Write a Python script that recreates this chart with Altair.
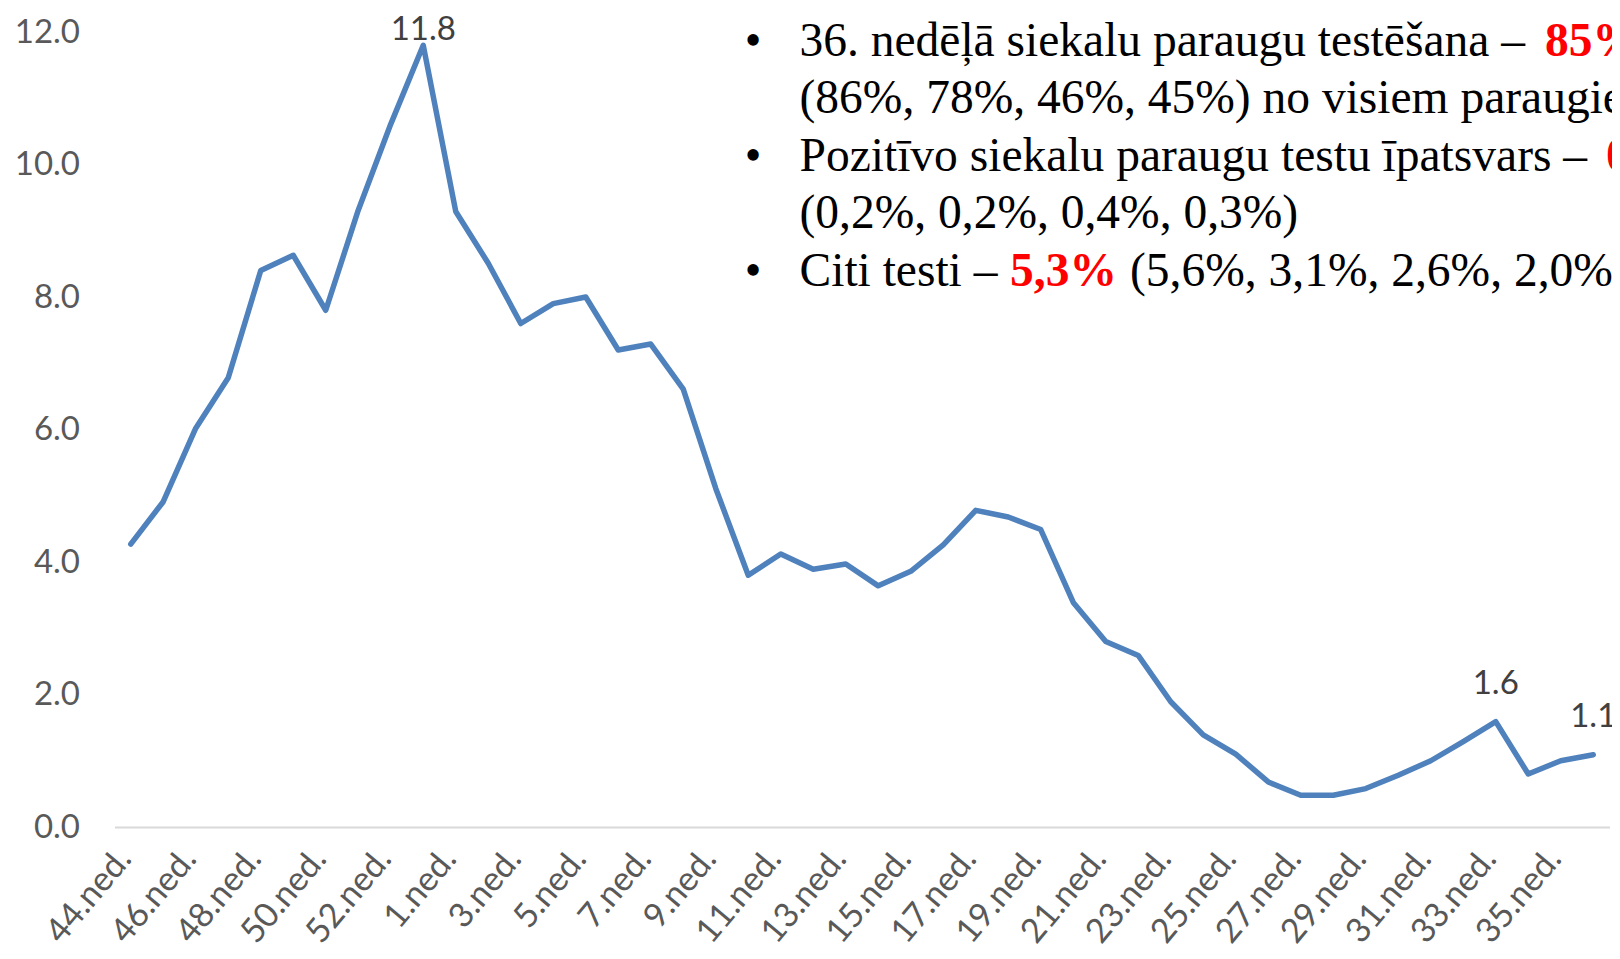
import altair as alt
import pandas as pd

weeks = ["44.ned.", "45.ned.", "46.ned.", "47.ned.", "48.ned.", "49.ned.", "50.ned.", "51.ned.",
         "52.ned.", "53.ned."] + [f"{i}.ned." for i in range(1, 37)]
values = [4.27, 4.91, 6.02, 6.78, 8.40, 8.63, 7.80, 9.31, 10.61, 11.8,
          9.29, 8.51, 7.60, 7.90, 8.00, 7.20, 7.29, 6.61, 5.11, 3.80,
          4.12, 3.89, 3.97, 3.64, 3.86, 4.26, 4.78, 4.68, 4.49, 3.39,
          2.80, 2.59, 1.89, 1.39, 1.10, 0.68, 0.48, 0.48, 0.58, 0.78,
          1.00, 1.29, 1.59, 0.80, 1.00, 1.09]
peak_week = ["53.ned."]
labelled_weeks = ["33.ned.", "36.ned."]
tick_labels = weeks[::2]
y_ticks = [0, 2, 4, 6, 8, 10, 12]

df = pd.DataFrame({"week": weeks, "value": values})

W, H = 1495, 795
AX_FONT = "Lato"
SERIF = "Liberation Serif"
FS_AX = 33

x_enc = alt.X("week:N", sort=weeks,
              scale=alt.Scale(padding=0.5),
              axis=alt.Axis(values=tick_labels, labelAngle=-50, labelAlign="right",
                            labelBaseline="middle", labelPadding=26, labelOffset=-6,
                            labelFont=AX_FONT,
                            labelFontSize=34, labelColor="#595959", ticks=False,
                            domainColor="#D9D9D9", domainWidth=2, title=None, grid=False,
                            labelOverlap=False))
y_enc = alt.Y("value:Q", scale=alt.Scale(domain=[0, 12], nice=False),
              axis=alt.Axis(values=y_ticks, format=".1f", labelFont=AX_FONT, labelFontSize=FS_AX,
                            labelColor="#595959", labelPadding=35, ticks=False, domain=False,
                            grid=False, title=None))

base = alt.Chart(df)
line = base.mark_line(color="#4F81BD", strokeWidth=5.5, strokeJoin="round", strokeCap="round").encode(
    x=x_enc, y=y_enc)

peak_lbl = base.transform_filter(alt.FieldOneOfPredicate(field="week", oneOf=peak_week)).mark_text(
    font=AX_FONT, fontSize=FS_AX, color="#404040", baseline="bottom", dy=2).encode(
    x=alt.X("week:N", sort=weeks), y="value:Q", text=alt.Text("value:Q", format=".1f"))
other_lbl = base.transform_filter(alt.FieldOneOfPredicate(field="week", oneOf=labelled_weeks)).mark_text(
    font=AX_FONT, fontSize=FS_AX, color="#404040", baseline="bottom", dy=-21).encode(
    x=alt.X("week:N", sort=weeks), y="value:Q", text=alt.Text("value:Q", format=".1f"))

OX, OY = 114.5, 32


def note(text, x, y, color="black", bold=False, align="left"):
    return alt.Chart(pd.DataFrame({"t": [text]})).mark_text(
        font=SERIF, fontSize=47.5, color=color, fontWeight="bold" if bold else "normal",
        align=align, baseline="alphabetic").encode(
        text="t:N", x=alt.value(x - OX), y=alt.value(y - OY))


notes = [
    note("•", 753, 56, align="center"),
    note("•", 753, 171, align="center"),
    note("•", 753, 286, align="center"),
    note("36. nedēļā siekalu paraugu testēšana –", 799.5, 56),
    note("85%", 1545, 56, color="#FF0000", bold=True),
    note("(86%, 78%, 46%, 45%) no visiem paraugiem", 799.5, 113),
    note("Pozitīvo siekalu paraugu testu īpatsvars –", 799.5, 171),
    note("0,3%", 1606, 171, color="#FF0000", bold=True),
    note("(0,2%, 0,2%, 0,4%, 0,3%)", 799.5, 228),
    note("Citi testi –", 799.5, 286),
    note("5,3%", 1010, 286, color="#FF0000", bold=True),
    note("(5,6%, 3,1%, 2,6%, 2,0%)", 1130, 286),
]

chart = alt.layer(line, peak_lbl, other_lbl, *notes).properties(
    width=W, height=H,
    autosize=alt.AutoSizeParams(type="none"),
    padding={"left": 106.5, "top": 24, "right": 2, "bottom": 122},
).configure(background="white").configure_view(stroke=None)

chart.save("out.html", embed_options={"renderer": "svg", "actions": False})
